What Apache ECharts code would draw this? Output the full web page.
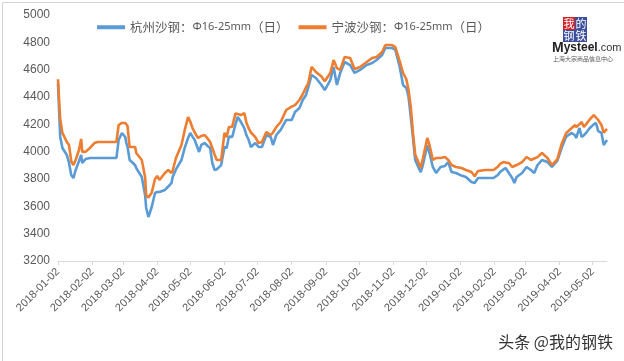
<!DOCTYPE html>
<html><head><meta charset="utf-8">
<script src="https://cdn.jsdelivr.net/npm/echarts@6/dist/echarts.min.js"></script>
<style>html,body{margin:0;padding:0;background:#fff}#c{width:624px;height:361px}</style>
</head><body><div id="c"></div>
<script>
const seriesNames = ['杭州沙钢：Φ16-25mm（日）', '宁波沙钢：Φ16-25mm（日）'];
const tickLabels = ['2018-01-02','2018-02-02','2018-03-02','2018-04-02','2018-05-02','2018-06-02','2018-07-02','2018-08-02','2018-09-02','2018-10-02','2018-11-02','2018-12-02','2019-01-02','2019-02-02','2019-03-02','2019-04-02','2019-05-02'];
const axisStart = '2018-01-02', axisEnd = '2019-05-15';
const dates = [
'2018-01-02','2018-01-03','2018-01-04','2018-01-06','2018-01-10','2018-01-12','2018-01-14','2018-01-16','2018-01-18','2018-01-21',
'2018-01-23','2018-01-24','2018-01-27','2018-01-31','2018-02-04','2018-02-07','2018-02-24','2018-02-26','2018-03-01','2018-03-04',
'2018-03-05','2018-03-06','2018-03-08','2018-03-11','2018-03-13','2018-03-14','2018-03-19','2018-03-22','2018-03-23','2018-03-25',
'2018-03-28','2018-03-31','2018-04-02','2018-04-04','2018-04-09','2018-04-12','2018-04-15','2018-04-16','2018-04-19','2018-04-24',
'2018-04-27','2018-04-30','2018-05-02','2018-05-04','2018-05-06','2018-05-09','2018-05-10','2018-05-12','2018-05-15','2018-05-18',
'2018-05-20','2018-05-22','2018-05-24','2018-05-26','2018-05-30','2018-06-02','2018-06-04','2018-06-06','2018-06-09','2018-06-12',
'2018-06-14','2018-06-17','2018-06-20','2018-06-22','2018-06-24','2018-06-26','2018-06-30','2018-07-03','2018-07-06','2018-07-10',
'2018-07-14','2018-07-16','2018-07-19','2018-07-23','2018-07-28','2018-08-02','2018-08-05','2018-08-09','2018-08-12','2018-08-15',
'2018-08-17','2018-08-20','2018-08-24','2018-08-29','2018-09-01','2018-09-06','2018-09-09','2018-09-12','2018-09-15','2018-09-19',
'2018-09-24','2018-09-28','2018-10-03','2018-10-09','2018-10-14','2018-10-18','2018-10-23','2018-10-26','2018-11-01','2018-11-04',
'2018-11-08','2018-11-11','2018-11-14','2018-11-16','2018-11-18','2018-11-20','2018-11-22','2018-11-26','2018-11-27','2018-11-29',
'2018-12-03','2018-12-05','2018-12-08','2018-12-11','2018-12-15','2018-12-19','2018-12-22','2018-12-25','2018-12-29','2019-01-03',
'2019-01-07','2019-01-12','2019-01-15','2019-01-18','2019-01-25','2019-02-01','2019-02-05','2019-02-07','2019-02-10','2019-02-12',
'2019-02-15','2019-02-18','2019-02-20','2019-02-22','2019-02-27','2019-03-03','2019-03-07','2019-03-10','2019-03-13','2019-03-17',
'2019-03-22','2019-03-26','2019-03-31','2019-04-04','2019-04-08','2019-04-13','2019-04-16','2019-04-17','2019-04-20','2019-04-22',
'2019-04-24','2019-04-26','2019-04-29','2019-05-03','2019-05-05','2019-05-07','2019-05-10','2019-05-12','2019-05-15'];
const hangzhou = [
4500,4300,4110,4027,3976,3917,3829,3807,3866,3930,
3976,3917,3946,3954,3954,3954,3954,4085,4137,4107,
4063,4040,3939,3917,3900,3880,3815,3683,3588,3522,
3595,3698,3705,3705,3720,3745,3771,3815,3870,3939,
4030,4100,4137,4110,4085,4020,3998,4049,4063,4040,
4027,3917,3866,3870,3902,4034,4027,4110,4107,4200,
4254,4217,4173,4120,4085,4034,4063,4034,4034,4122,
4107,4049,4122,4159,4232,4232,4290,4320,4378,4415,
4470,4561,4539,4488,4451,4524,4620,4488,4576,4656,
4634,4576,4598,4634,4649,4671,4707,4759,4759,4744,
4620,4488,4466,4400,4254,4100,3940,3866,3851,3902,
4049,3990,3888,3844,3888,3895,3924,3851,3844,3825,
3815,3778,3771,3807,3807,3807,3829,3851,3870,3880,
3844,3807,3771,3815,3844,3888,3866,3844,3902,3939,
3924,3888,3935,4030,4110,4137,4120,4100,4173,4107,
4120,4137,4170,4200,4210,4150,4137,4049,4085];
const ningbo = [
4530,4380,4240,4137,4071,4049,3930,3902,3939,4012,
4093,3998,4000,4027,4063,4071,4071,4195,4210,4210,
4200,4190,4034,4034,4034,3990,3939,3815,3680,3665,
3700,3800,3822,3793,3844,3866,3844,3860,3954,4049,
4159,4254,4220,4173,4140,4100,4105,4115,4122,4093,
4070,4027,3980,3939,3939,4137,4107,4181,4181,4280,
4275,4268,4283,4210,4170,4140,4107,4063,4071,4144,
4122,4140,4180,4217,4305,4330,4341,4378,4420,4470,
4500,4620,4583,4550,4515,4576,4671,4612,4598,4693,
4685,4605,4620,4656,4685,4693,4729,4780,4780,4765,
4660,4576,4530,4451,4327,4137,3980,3902,3880,3950,
4100,4049,3939,3954,3954,3961,3940,3902,3888,3880,
3866,3851,3820,3859,3866,3866,3890,3910,3924,3920,
3917,3888,3895,3902,3924,3961,3939,3950,3960,3990,
3954,3902,3945,4060,4137,4173,4195,4180,4200,4217,
4181,4200,4232,4268,4250,4232,4195,4140,4166];

// calendar categories for the date axis
function buildDays(a, b) {
  const out = [];
  let t = Date.UTC(+a.slice(0,4), +a.slice(5,7)-1, +a.slice(8,10));
  const end = Date.UTC(+b.slice(0,4), +b.slice(5,7)-1, +b.slice(8,10));
  while (t <= end) { out.push(new Date(t).toISOString().slice(0,10)); t += 86400000; }
  return out;
}
const days = buildDays(axisStart, axisEnd);
const tickSet = new Set(tickLabels);
const isTick = (i, v) => tickSet.has(v);

const chart = echarts.init(document.getElementById('c'), null, {renderer: 'canvas'});
const legendFmt = n => n.replace('Φ16-25mm', '{s|Φ16-25mm}');
chart.setOption({
  animation: false,
  backgroundColor: '#fff',
  grid: {left: 58, right: 17, top: 15, bottom: 100, containLabel: false},
  legend: {
    left: 92, top: 16, itemGap: 10, itemWidth: 28, itemHeight: 4, icon: 'rect',
    formatter: legendFmt,
    textStyle: {fontSize: 12.5, color: '#595959', fontFamily: '"Noto Sans CJK SC", sans-serif',
      rich: {s: {fontSize: 11, color: '#595959', fontFamily: '"Noto Sans", "DejaVu Sans", sans-serif'}}},
    data: seriesNames
  },
  xAxis: {
    type: 'category', data: days, boundaryGap: false,
    axisLine: {lineStyle: {color: '#d9d9d9', width: 1}},
    axisTick: {interval: isTick, length: 4, lineStyle: {color: '#d9d9d9'}},
    axisLabel: {interval: isTick, rotate: 45, fontSize: 11, color: '#595959', margin: 9,
      fontFamily: '"Liberation Sans", sans-serif'},
    splitLine: {show: false}
  },
  yAxis: {
    type: 'value', min: 3200, max: 5000, interval: 200,
    axisLine: {show: false}, axisTick: {show: false}, splitLine: {show: false},
    axisLabel: {fontSize: 12, color: '#595959', margin: 8, fontFamily: '"Liberation Sans", sans-serif',
      formatter: v => String(v)}
  },
  series: [
    {name: seriesNames[0], type: 'line', symbol: 'none', color: '#5B9BD5',
     lineStyle: {width: 2.6, color: '#5B9BD5'},
     data: dates.map((d, i) => [d, hangzhou[i]])},
    {name: seriesNames[1], type: 'line', symbol: 'none', color: '#ED7D31',
     lineStyle: {width: 2.6, color: '#ED7D31'},
     data: dates.map((d, i) => [d, ningbo[i]])}
  ],
  graphic: [
    {type: 'rect', left: 0, top: 0, shape: {x: 0.5, y: 0.5, width: 623, height: 360},
     style: {fill: 'none', stroke: '#d4d4d4', lineWidth: 1}, silent: true},
    {type: 'rect', shape: {x: 563, y: 17, width: 12, height: 13}, style: {fill: '#d2232a'}},
    {type: 'rect', shape: {x: 575, y: 17, width: 12, height: 13}, style: {fill: '#3b4f9c'}},
    {type: 'rect', shape: {x: 563, y: 30, width: 12, height: 12}, style: {fill: '#3b4f9c'}},
    {type: 'rect', shape: {x: 575, y: 30, width: 12, height: 12}, style: {fill: '#3b4f9c'}},
    {type: 'text', x: 569, y: 23.5, style: {text: '我', fill: '#fff', fontSize: 11, fontFamily: '"Noto Sans CJK SC"', align: 'center', verticalAlign: 'middle'}},
    {type: 'text', x: 581, y: 23.5, style: {text: '的', fill: '#fff', fontSize: 11, fontFamily: '"Noto Sans CJK SC"', align: 'center', verticalAlign: 'middle'}},
    {type: 'text', x: 569, y: 36, style: {text: '钢', fill: '#fff', fontSize: 11, fontFamily: '"Noto Sans CJK SC"', align: 'center', verticalAlign: 'middle'}},
    {type: 'text', x: 581, y: 36, style: {text: '铁', fill: '#fff', fontSize: 11, fontFamily: '"Noto Sans CJK SC"', align: 'center', verticalAlign: 'middle'}},
    {type: 'text', x: 552, y: 48, style: {text: '{m|M}{y|ysteel}{c|.com}', verticalAlign: 'middle',
      rich: {m: {fontSize: 14, fontWeight: 'bold', fill: '#222', fontFamily: '"Liberation Sans"'},
             y: {fontSize: 12, fontWeight: 'bold', fill: '#222', fontFamily: '"Liberation Sans"'},
             c: {fontSize: 11, fill: '#333', fontFamily: '"Liberation Sans"'}}}},
    {type: 'text', x: 553, y: 59, style: {text: '上海大宗商品信息中心', fill: '#555', fontSize: 6, fontFamily: '"Noto Sans CJK SC"', verticalAlign: 'middle'}},
    {type: 'text', x: 613, y: 342, style: {text: '头条 @我的钢铁', fill: '#333', fontSize: 16, fontFamily: '"Noto Sans CJK SC"',
      align: 'right', verticalAlign: 'middle', stroke: '#fff', lineWidth: 2}}
  ]
});
</script></body></html>
